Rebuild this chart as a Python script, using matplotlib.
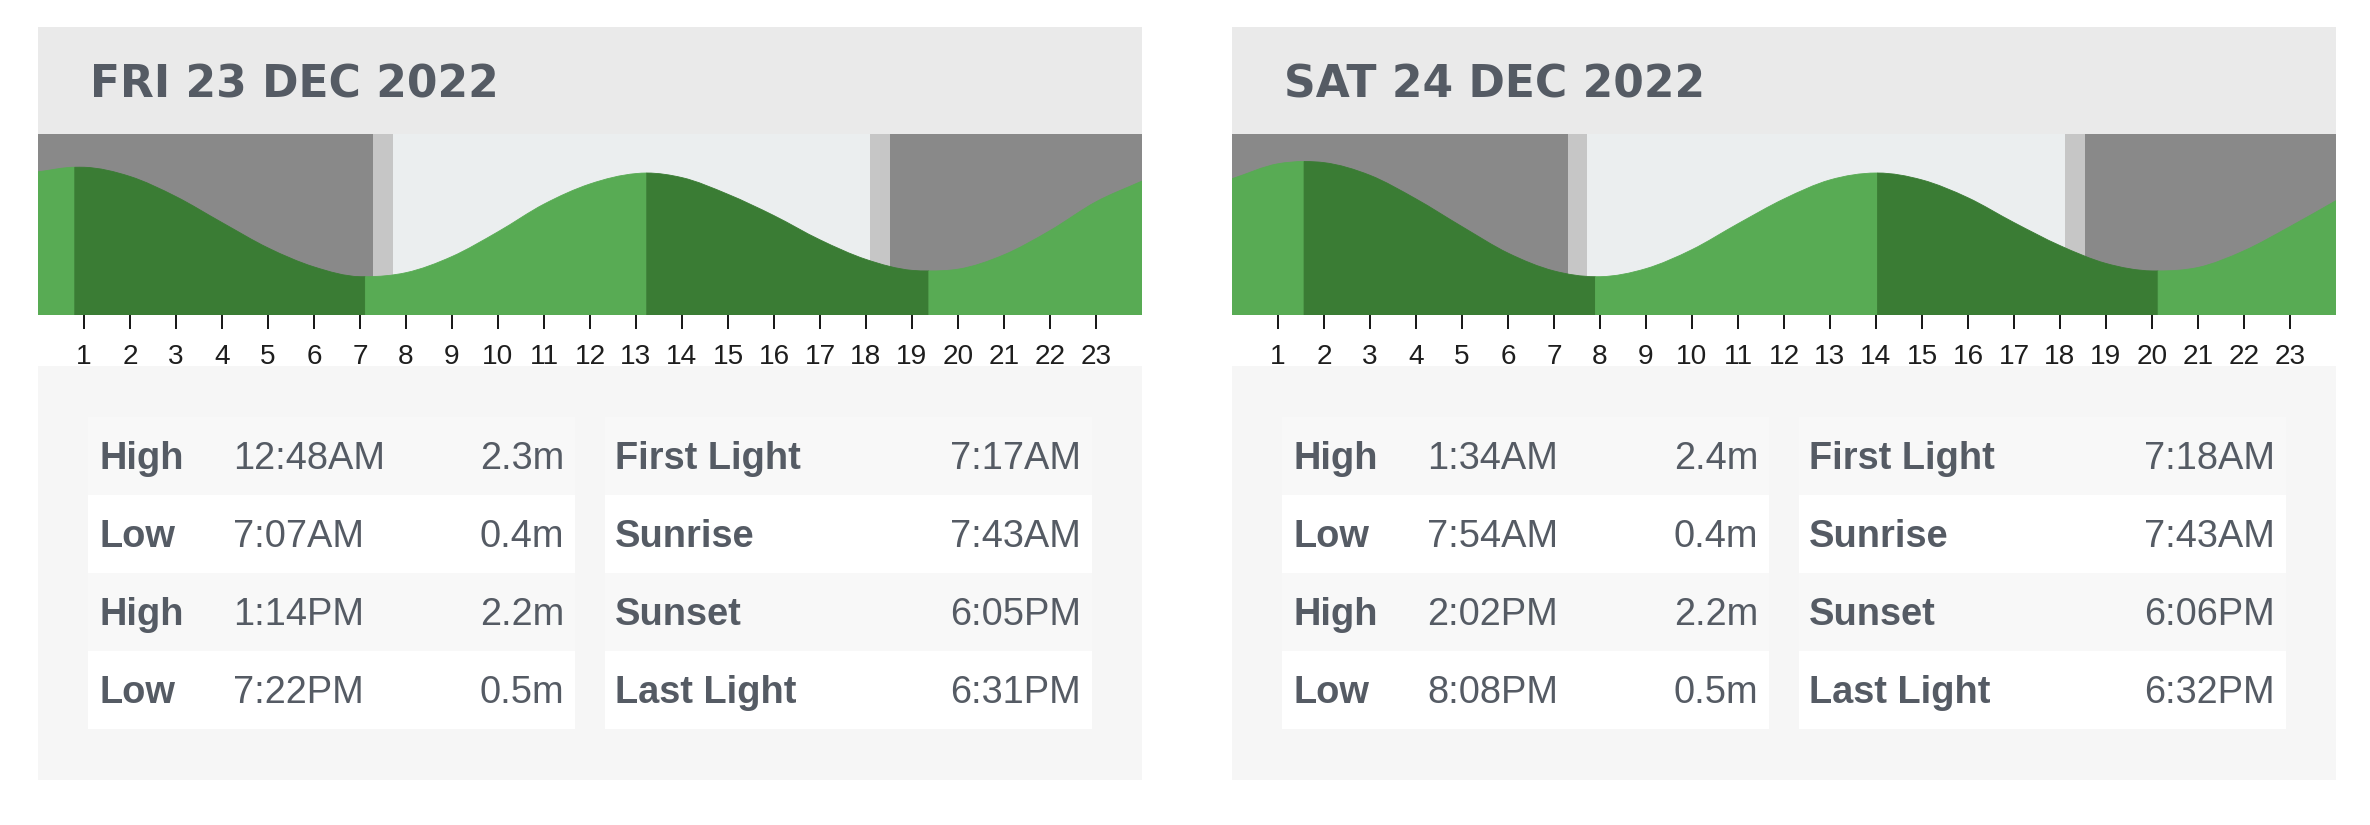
import matplotlib
matplotlib.use("Agg")
import matplotlib.pyplot as plt
from matplotlib.patches import Rectangle, PathPatch
from matplotlib.path import Path
import numpy as np

W, H = 2370, 825
PX = 0.72  # points per pixel at dpi 100

# ---------------- data ----------------
dates = ["FRI 23 DEC 2022", "SAT 24 DEC 2022"]

tide_kind = ["High", "Low", "High", "Low"]
tide_time = [["12:48AM", "7:07AM", "1:14PM", "7:22PM"],
             ["1:34AM", "7:54AM", "2:02PM", "8:08PM"]]
tide_height = [[2.3, 0.4, 2.2, 0.5],
               [2.4, 0.4, 2.2, 0.5]]

light_kind = ["First Light", "Sunrise", "Sunset", "Last Light"]
light_time = [["7:17AM", "7:43AM", "6:05PM", "6:31PM"],
              ["7:18AM", "7:43AM", "6:06PM", "6:32PM"]]

# tide level (m) at each full hour, 0..24
hours = list(range(25))
curve_day1 = [2.22, 2.30, 2.14, 1.79, 1.34, 0.90, 0.57, 0.40, 0.47, 0.75,
              1.18, 1.66, 2.01, 2.19, 2.12, 1.83, 1.46, 1.04, 0.70, 0.51,
              0.53, 0.78, 1.20, 1.70, 2.06]
curve_day2 = [2.10, 2.36, 2.38, 2.16, 1.75, 1.27, 0.81, 0.50, 0.40, 0.54,
              0.87, 1.32, 1.75, 2.08, 2.20, 2.08, 1.77, 1.34, 0.94, 0.63,
              0.50, 0.56, 0.85, 1.27, 1.72]
curves = [curve_day1, curve_day2]
tick_hours = list(range(1, 24))

# ---------------- style ----------------
TEXT = "#555b64"
HEADER = "#eaeaea"
TABLE_BG = "#f6f6f6"
ROW_ALT = "#f8f8f8"
NIGHT = "#898989"
TWILIGHT = "#c6c6c6"
DAY = "#ebeeef"
RISE = "#58ab54"
FALL = "#3a7c34"
YLIM = (-0.265, 2.877)


def to_hours(s):
    hm, ap = s[:-2], s[-2:]
    h, m = map(int, hm.split(":"))
    return h % 12 + (12 if ap == "PM" else 0) + m / 60


def smooth_area(t, h, m, i0, i1, ybot):
    # area under a smooth (cubic bezier) curve through points i0..i1
    verts = [(t[i0], ybot), (t[i0], h[i0])]
    codes = [Path.MOVETO, Path.LINETO]
    for i in range(i0, i1):
        dt = t[i + 1] - t[i]
        verts += [(t[i] + dt / 3, h[i] + m[i] * dt / 3),
                  (t[i + 1] - dt / 3, h[i + 1] - m[i + 1] * dt / 3),
                  (t[i + 1], h[i + 1])]
        codes += [Path.CURVE4] * 3
    verts += [(t[i1], ybot), (t[i0], ybot)]
    codes += [Path.LINETO, Path.CLOSEPOLY]
    return Path(verts, codes)


fig = plt.figure(figsize=(W / 100, H / 100), dpi=100)
bg = fig.add_axes([0, 0, 1, 1])
bg.set_xlim(0, W)
bg.set_ylim(H, 0)
bg.axis("off")

for p in range(2):
    x0 = 38 + p * 1194

    # header + table background
    bg.add_patch(Rectangle((x0, 27), 1104, 107, color=HEADER, lw=0))
    bg.add_patch(Rectangle((x0, 366), 1104, 414, color=TABLE_BG, lw=0))
    bg.text(x0 + 52, 97, dates[p], fontsize=44 * PX, fontweight="bold",
            family="DejaVu Sans", color=TEXT, va="baseline")

    # tide chart
    ax = fig.add_axes([x0 / W, (H - 315) / H, 1104 / W, 181 / H])
    ax.set_xlim(0, 24)
    ax.set_ylim(*YLIM)
    for s in ax.spines.values():
        s.set_visible(False)
    ax.set_yticks([])

    fl, sr, ss, ll = [to_hours(t) for t in light_time[p]]
    for a, b, c in [(0, fl, NIGHT), (fl, sr, TWILIGHT), (sr, ss, DAY),
                    (ss, ll, TWILIGHT), (ll, 24, NIGHT)]:
        ax.axvspan(a, b, color=c, lw=0)

    ext_t = [to_hours(t) for t in tide_time[p]]
    pts = sorted(list(zip(hours, curves[p])) + list(zip(ext_t, tide_height[p])))
    t = np.array([q[0] for q in pts])
    h = np.array([q[1] for q in pts])

    # slopes: flat at high/low water, finite differences elsewhere
    m = np.gradient(h, t)
    for i in range(len(t)):
        if t[i] in ext_t:
            m[i] = 0.0

    idx = [0] + [int(np.where(t == e)[0][0]) for e in ext_t] + [len(t) - 1]
    for k in range(len(idx) - 1):
        if k == 0:
            falling = tide_kind[0] == "Low"
        else:
            falling = tide_kind[k - 1] == "High"
        col = FALL if falling else RISE
        path = smooth_area(t, h, m, idx[k], idx[k + 1], YLIM[0])
        ax.add_patch(PathPatch(path, fc=col, ec=col, lw=0.6))

    ax.set_xticks(tick_hours)
    ax.set_xticklabels([str(k) for k in tick_hours],
                       family="Liberation Sans",
                       fontsize=28 * PX, color="#1e1e1e")
    ax.tick_params(axis="x", direction="out", length=14 * PX, width=2 * PX,
                   color="#1a1a1a", pad=15 * PX)

    # table
    for r in range(4):
        y = 417 + 78 * r
        col = ROW_ALT if r % 2 == 0 else "white"
        bg.add_patch(Rectangle((x0 + 50, y), 487, 78, color=col, lw=0))
        bg.add_patch(Rectangle((x0 + 567, y), 487, 78, color=col, lw=0))
        yb = y + 52
        kw = dict(fontsize=38 * PX, color=TEXT, family="Liberation Sans",
                  va="baseline")
        bg.text(x0 + 61, yb, tide_kind[r], fontweight="bold", **kw)
        bg.text(x0 + 195, yb, tide_time[p][r], **kw)
        bg.text(x0 + 526, yb, f"{tide_height[p][r]}m", ha="right", **kw)
        bg.text(x0 + 577, yb, light_kind[r], fontweight="bold", **kw)
        bg.text(x0 + 1043, yb, light_time[p][r], ha="right", **kw)

fig.savefig("out.png", dpi=100, facecolor="white")
